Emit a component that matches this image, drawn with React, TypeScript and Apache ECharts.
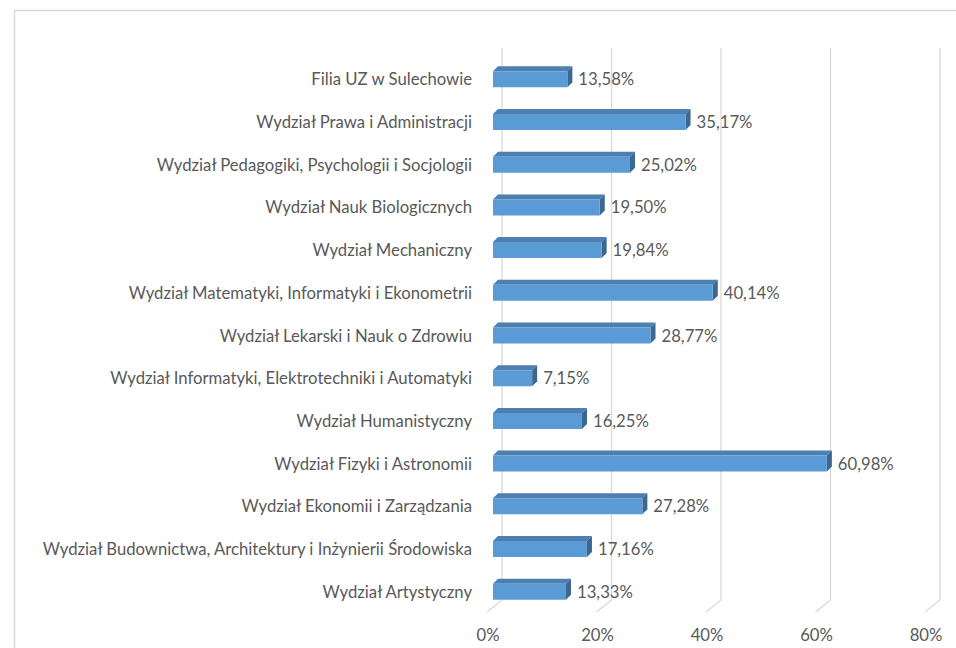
import React, { useEffect, useRef } from "react";
import * as echarts from "echarts";

const categories = [
  "Filia UZ w Sulechowie",
  "Wydział Prawa i Administracji",
  "Wydział Pedagogiki, Psychologii i Socjologii",
  "Wydział Nauk Biologicznych",
  "Wydział Mechaniczny",
  "Wydział Matematyki, Informatyki i Ekonometrii",
  "Wydział Lekarski i Nauk o Zdrowiu",
  "Wydział Informatyki, Elektrotechniki i Automatyki",
  "Wydział Humanistyczny",
  "Wydział Fizyki i Astronomii",
  "Wydział Ekonomii i Zarządzania",
  "Wydział Budownictwa, Architektury i Inżynierii Środowiska",
  "Wydział Artystyczny",
];

const values = [13.58, 35.17, 25.02, 19.5, 19.84, 40.14, 28.77, 7.15, 16.25, 60.98, 27.28, 17.16, 13.33];

const ticks = [0, 20, 40, 60, 80];

const FONT = "Lato";
const FS = 16.7;
const TEXT = "#595959";

export default function App() {
  const ref = useRef<HTMLDivElement>(null);
  useEffect(() => {
    if (!ref.current) return;
    const chart = echarts.init(ref.current, null, { renderer: "svg" });
    const fmt = (v: number) => v.toFixed(2).replace(".", ",") + "%";
    chart.setOption({
      animation: false,
      backgroundColor: "#ffffff",
      graphic: [
        {
          type: "rect",
          shape: { x: 14.5, y: 10.5, width: 1000, height: 1000 },
          style: { fill: "none", stroke: "#d9d9d9", lineWidth: 1.5 },
          silent: true,
          z: -10,
        },
      ],
      grid: { left: 493, top: 58, width: 438, height: 555, containLabel: false },
      xAxis: {
        type: "value",
        min: 0,
        max: 80,
        interval: 20,
        axisLine: { show: false },
        axisTick: { show: false },
        splitLine: { show: false },
        axisLabel: {
          formatter: (v: number) => v + "%",
          color: TEXT,
          fontFamily: FONT,
          fontSize: FS,
          margin: 13,
          padding: [0, 10, 0, 0],
        },
      },
      yAxis: {
        type: "category",
        data: categories,
        inverse: true,
        axisLine: { show: false },
        axisTick: { show: false },
        splitLine: { show: false },
        axisLabel: {
          color: TEXT,
          fontFamily: FONT,
          fontSize: FS,
          margin: 21,
        },
      },
      series: [
        {
          type: "custom",
          silent: true,
          z: 1,
          data: ticks.map((t) => [t, 0]),
          renderItem: (params: any, api: any) => {
            const v = api.value(0);
            const x = api.coord([v, 0])[0];
            const cs = params.coordSys;
            const top = cs.y - 10;
            const bend = cs.y + cs.height - 13;
            const bottom = cs.y + cs.height - 1;
            return {
              type: "polyline",
              shape: {
                points: [
                  [x + 9, top],
                  [x + 9, bend],
                  [x - 6, bottom],
                ],
              },
              style: { stroke: "#d9d9d9", lineWidth: 1.3, fill: "none" },
            };
          },
        },
        {
          type: "custom",
          z: 2,
          data: values.map((v, i) => [v, i]),
          renderItem: (params: any, api: any) => {
            const v = api.value(0);
            const idx = api.value(1);
            const p0 = api.coord([0, idx]);
            const p1 = api.coord([v, idx]);
            const x0 = p0[0];
            const x1 = p1[0];
            const cy = p0[1];
            const h = 16;
            const yt = cy - h / 2;
            const yb = cy + h / 2;
            const d = 5;
            return {
              type: "group",
              children: [
                {
                  type: "polygon",
                  shape: {
                    points: [
                      [x0, yt],
                      [x0 + d, yt - d],
                      [x1 + d, yt - d],
                      [x1, yt],
                    ],
                  },
                  style: { fill: "#4d7fb0" },
                },
                {
                  type: "polygon",
                  shape: {
                    points: [
                      [x1, yt],
                      [x1 + d, yt - d],
                      [x1 + d, yb - d],
                      [x1, yb],
                    ],
                  },
                  style: { fill: "#3c6793" },
                },
                {
                  type: "rect",
                  shape: { x: x0, y: yt, width: x1 - x0, height: h },
                  style: { fill: "#5b9bd5" },
                },
                {
                  type: "text",
                  x: x1 + 11,
                  y: cy,
                  style: {
                    text: fmt(v),
                    fill: TEXT,
                    font: `${FS}px ${FONT}`,
                    verticalAlign: "middle",
                    align: "left",
                  },
                },
              ],
            };
          },
        },
      ],
    });
    return () => chart.dispose();
  }, []);
  return (
    <div
      ref={ref}
      style={{ position: "fixed", left: 0, top: 0, width: 956, height: 648 }}
    />
  );
}
